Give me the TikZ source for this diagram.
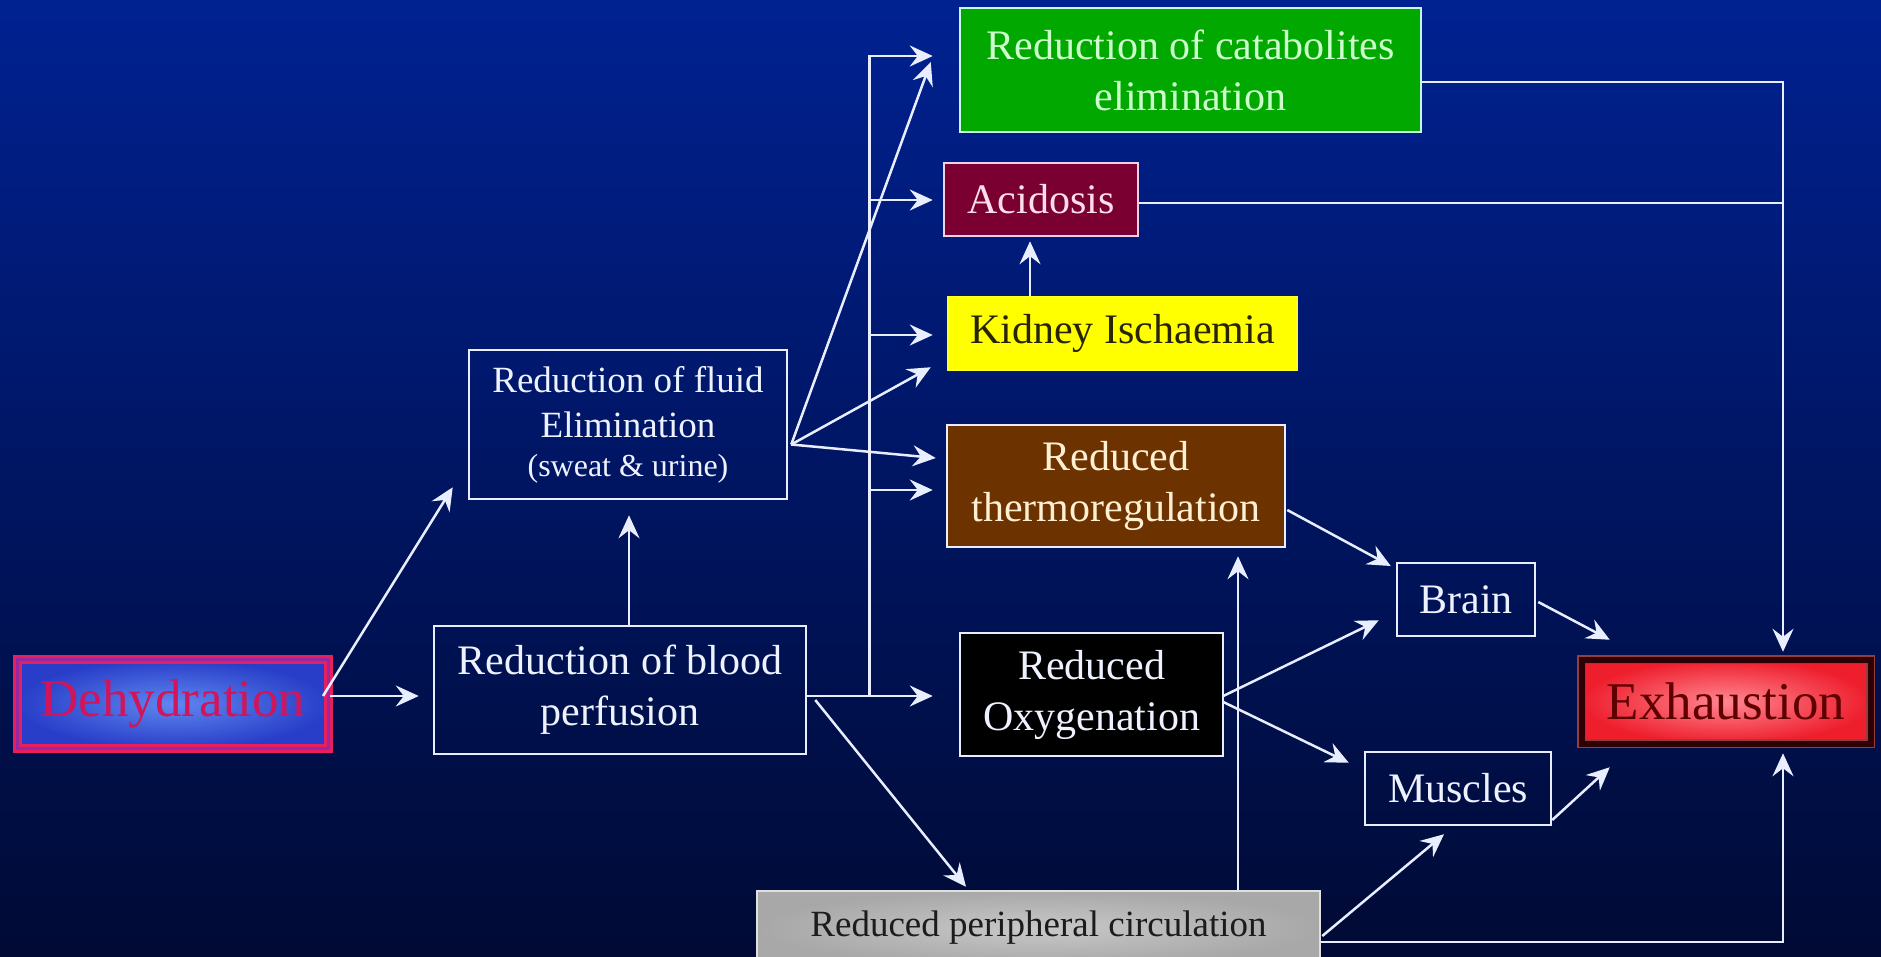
\documentclass[tikz,border=0pt]{standalone}
\usepackage{fontspec}
\setmainfont{Liberation Serif}
\usetikzlibrary{arrows.meta,calc}
\definecolor{bgtop}{RGB}{0,33,145}
\definecolor{bgbot}{RGB}{0,10,52}
\definecolor{arrcol}{RGB}{232,238,255}
\definecolor{txtwhite}{RGB}{238,242,255}
\definecolor{catfill}{RGB}{0,168,0}
\definecolor{cattxt}{RGB}{205,255,205}
\definecolor{catline}{RGB}{200,250,225}
\definecolor{acidfill}{RGB}{122,0,50}
\definecolor{acidtxt}{RGB}{255,222,235}
\definecolor{acidline}{RGB}{240,210,230}
\definecolor{kidfill}{RGB}{255,255,0}
\definecolor{kidtxt}{RGB}{40,36,0}
\definecolor{thermofill}{RGB}{108,50,0}
\definecolor{thermotxt}{RGB}{255,240,212}
\definecolor{perin}{RGB}{200,200,200}
\definecolor{periout}{RGB}{168,168,168}
\definecolor{peritxt}{RGB}{28,28,28}
\definecolor{dehin}{RGB}{95,135,240}
\definecolor{dehout}{RGB}{40,62,200}
\definecolor{dehred}{RGB}{232,30,95}
\definecolor{dehmid}{RGB}{150,40,160}
\definecolor{dehtxt}{RGB}{210,20,90}
\definecolor{exhin}{RGB}{255,135,145}
\definecolor{exhout}{RGB}{238,30,45}
\definecolor{exhdark}{RGB}{45,0,5}
\definecolor{exhedge}{RGB}{150,60,60}
\definecolor{exhtxt}{RGB}{95,0,0}
\begin{document}
\begin{tikzpicture}[x=1pt,y=-1pt,
  box/.style={draw=arrcol, line width=2.5pt, inner sep=0pt, align=center,
    text=txtwhite, font=\fontsize{42}{51}\selectfont},
  arr/.style={draw=arrcol, line width=2.5pt,
    -{Stealth[length=23pt,width=21pt,inset=8pt]}},
  ln/.style={draw=arrcol, line width=2.5pt}]
\useasboundingbox (0,0) rectangle (1881,957);
\clip (0,0) rectangle (1881,957);
\shade[top color=bgtop,bottom color=bgbot] (0,0) rectangle (1881,957);

% nodes
\node[box, draw=dehred, double=dehmid, double distance=3pt, line width=3pt,
  inner color=dehin, outer color=dehout, text=dehtxt,
  minimum width=311pt, minimum height=89pt,
  font=\fontsize{53}{60}\selectfont] (deh) at (173,704) {Dehydration};
\node[box, draw=exhedge, double=exhdark, double distance=6pt, line width=1.5pt,
  inner color=exhin, outer color=exhout, text=exhtxt,
  minimum width=289pt, minimum height=84pt,
  font=\fontsize{53}{60}\selectfont] (exh) at (1726,701.5) {Exhaustion};
\node[box, minimum width=318pt, minimum height=149pt] (fluid) at (628,424.5)
  {\fontsize{37}{45}\selectfont Reduction of fluid\\[-6pt]
   \fontsize{37}{45}\selectfont Elimination\\[-12pt]
   \fontsize{32}{39}\selectfont (sweat \& urine)};
\node[box, minimum width=372pt, minimum height=128pt] (perf) at (620,690)
  {\raisebox{-4pt}{Reduction of blood}\\\raisebox{-4pt}{perfusion}};
\node[box, draw=catline, fill=catfill, text=cattxt,
  minimum width=461pt, minimum height=124pt] (cat) at (1190.5,70)
  {Reduction of catabolites\\elimination};
\node[box, draw=acidline, fill=acidfill, text=acidtxt,
  minimum width=194pt, minimum height=73pt] (acid) at (1041,199.5) {Acidosis};
\node[box, draw=kidfill!85!white, fill=kidfill, text=kidtxt,
  minimum width=349pt, minimum height=73pt] (kid) at (1122.5,333.5) {Kidney Ischaemia};
\node[box, fill=thermofill, text=thermotxt,
  minimum width=338pt, minimum height=122pt] (thermo) at (1116,486)
  {Reduced\\thermoregulation};
\node[box, fill=black,
  minimum width=263pt, minimum height=123pt] (oxy) at (1091.5,694.5)
  {Reduced\\Oxygenation};
\node[box, minimum width=138pt, minimum height=73pt] (brain) at (1466,599.5) {Brain};
\node[box, minimum width=186pt, minimum height=73pt] (mus) at (1458,788.5) {Muscles};
\node[box, draw=white!88!black, inner color=perin, outer color=periout, text=peritxt,
  minimum width=563pt, minimum height=74pt,
  font=\fontsize{37}{45}\selectfont] (peri) at (1038.5,928)
  {Reduced peripheral circulation};

% connectors
\draw[arr] ($(deh.east)+(0,-8)$) -- ($(perf.west)+(-14,6)$);
\draw[arr] ($(deh.east)+(-7,-8)$) -- ($(fluid.south west)+(-15,-13)$);
\draw[arr] ($(perf.north)+(9,0)$) -- ($(fluid.south)+(1,15)$);
\draw[arr] ($(perf.east)+(0,6)$) -- ($(oxy.west)+(-26,1.5)$);

\coordinate (jb) at ($(perf.east)+(62,6)$);
\draw[arr] (jb) |- ($(cat.west)+(-26,-14)$);
\draw[arr] (jb) |- ($(acid.west)+(-10,0.5)$);
\draw[arr] (jb) |- ($(kid.west)+(-14,1.5)$);
\draw[arr] (jb) |- ($(thermo.west)+(-13,4)$);

\draw[arr] ($(fluid.east)+(3,20)$) -- ($(cat.west)+(-28,-8)$);
\draw[arr] ($(fluid.east)+(3,20)$) -- ($(kid.south west)+(-16,-4)$);
\draw[arr] ($(fluid.east)+(3,20)$) -- ($(thermo.west)+(-10,-28)$);

\draw[arr] ($(perf.east)+(8,10)$) -- ($(peri.north)+(-72.5,-3)$);
\draw[arr] ($(kid.north)+(-92.5,0)$) -- ($(acid.south)+(-11,4)$);

\draw[arr] ($(cat.east)+(0,12)$) -| ($(exh.north)+(57,-7)$);
\draw[ln] ($(acid.east)+(0,3.5)$) -- +(645,0);
\draw[arr] ($(peri.east)+(0,14)$) -| ($(exh.south)+(57,9)$);

\draw[arr] ($(peri.north)+(199.5,0)$) -- ($(thermo.south)+(122,8)$);
\draw[arr] ($(peri.east)+(1,8)$) -- ($(mus.south)+(-14,8)$);
\draw[arr] ($(thermo.east)+(1,24)$) -- ($(brain.west)+(-5,-33.5)$);
\draw[arr] ($(oxy.east)+(-1,1.5)$) -- ($(brain.south west)+(-17,-17)$);
\draw[arr] ($(oxy.east)+(-1,7.5)$) -- ($(mus.north west)+(-15,12)$);
\draw[arr] ($(brain.east)+(2,2.5)$) -- ($(exh.north west)+(29,-19)$);
\draw[arr] ($(mus.east)+(0,31.5)$) -- ($(exh.south west)+(29,23)$);
\end{tikzpicture}
\end{document}
